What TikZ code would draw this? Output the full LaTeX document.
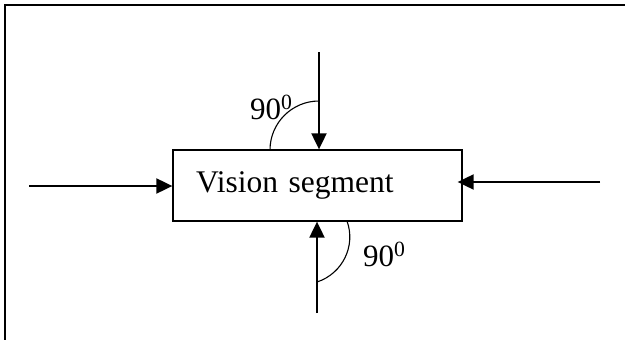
\documentclass[tikz,border=0pt]{standalone}
\usepackage{fontspec}
\setmainfont{Liberation Serif}
\usetikzlibrary{arrows.meta}
\begin{document}
\begin{tikzpicture}[x=1pt,y=-1pt,
  conn/.style={line width=2pt,-{Triangle[length=16pt,width=15pt]}},
  anglearc/.style={line width=1.1pt},
  lbl/.style={inner sep=0pt,anchor=base west,font=\fontsize{31}{36}\selectfont}]
\useasboundingbox (0,0) rectangle (625,340);
% frame
\draw[line width=1.6pt] (5,345) -- (5,5) -- (630,5);
% box
\node[draw,line width=1.3pt,minimum width=289pt,minimum height=71pt,
      inner xsep=23pt,text width=243pt,align=left,
      font=\fontsize{31.5}{37}\selectfont] (vs) at (317.5,185.5) {Vision segment};
% connector ends
\coordinate (tA) at (319,52);
\coordinate (bA) at (317,313);
\coordinate (lA) at (29,186);
\coordinate (rA) at (600,182);
\draw[conn] (tA) -- (tA |- vs.north);
\draw[conn] (bA) -- (bA |- vs.south);
\draw[conn] (lA) -- (lA -| vs.west);
\draw[conn] (rA) -- ([xshift=-5pt]rA -| vs.east);
% angle arcs
\draw[anglearc] (319,101) .. controls (292,101) and (270,123) .. (270,150);
\draw[anglearc] (347,221) .. controls (356.1,246.1) and (342.4,273.7) .. (317,282);
% labels
\node[lbl] (a1) at (250,119) {90\textsuperscript{0}};
\node[lbl] (a2) at (363,266) {90\textsuperscript{0}};
\end{tikzpicture}
\end{document}
